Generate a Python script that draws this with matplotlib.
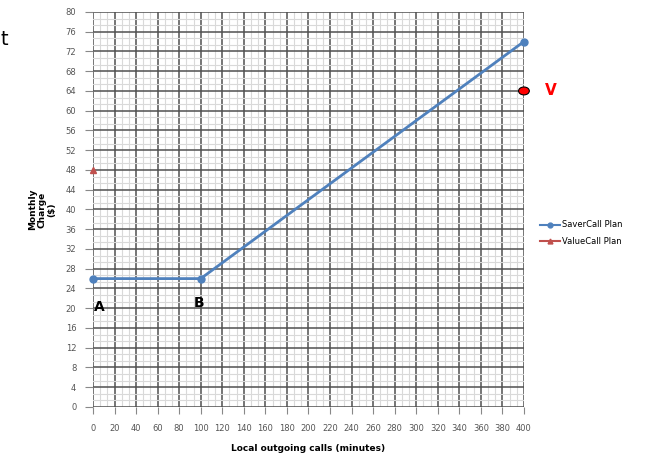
import matplotlib.pyplot as plt
from matplotlib.ticker import MultipleLocator
from matplotlib.patches import Ellipse
from matplotlib.lines import Line2D

# datos
saver_min = [0, 100, 400]
saver_cost = [26, 26, 74]
value_min = [0]
value_cost = [48]
punto_v = (400, 64)

xticks = list(range(0, 401, 20))
yticks = list(range(0, 81, 4))

fig = plt.figure(figsize=(6.52, 4.59), dpi=100)
ax = fig.add_axes([0.1426, 0.1133, 0.661, 0.8607])

ax.set_xlim(0, 400)
ax.set_ylim(0, 80)
ax.set_xticks(xticks)
ax.set_yticks(yticks)
ax.xaxis.set_minor_locator(MultipleLocator(20 / 3))
ax.yaxis.set_minor_locator(MultipleLocator(4 / 3))
ax.grid(True, which='major', color='#505050', linewidth=1.1)
ax.grid(True, which='minor', color='#d9d9d9', linewidth=0.8)
ax.set_axisbelow(True)
for s in ax.spines.values():
    s.set_visible(False)
ax.tick_params(which='minor', length=0)
ax.tick_params(axis='x', which='major', length=5, color='#888888', pad=7,
               labelsize=6, labelcolor='#555555')
ax.tick_params(axis='y', which='major', length=6, color='#888888', pad=6,
               labelsize=6, labelcolor='#555555')

ax.plot(saver_min, saver_cost, '-o', color='#4f81bd', linewidth=2,
        markersize=5, clip_on=False, zorder=5)
ax.plot(value_min, value_cost, '^', color='#c0504d', markersize=5,
        linestyle='none', clip_on=False, zorder=5)
ax.add_patch(Ellipse(punto_v, 10, 1.6, facecolor='red', edgecolor='black',
                     linewidth=0.8, clip_on=False, zorder=6))

ax.text(1, 20.2, 'A', fontsize=10, fontweight='bold', ha='left', va='center')
ax.text(98, 21, 'B', fontsize=10, fontweight='bold', ha='center', va='center')
ax.text(425, 64, 'V', fontsize=11, fontweight='bold', color='red',
        ha='center', va='center')

ax.set_xlabel('Local outgoing calls (minutes)', fontsize=6.5, fontweight='bold',
              labelpad=8)
ax.set_ylabel('Monthly\nCharge\n($)', fontsize=6.5, fontweight='bold',
              linespacing=1.1)
ax.yaxis.set_label_coords(-0.085, 0.5)

handles = [
    Line2D([], [], color='#4f81bd', linewidth=1.5, marker='o', markersize=3.5),
    Line2D([], [], color='#c0504d', linewidth=1.5, marker='^', markersize=3.5),
]
ax.legend(handles, ['SaverCall Plan', 'ValueCall Plan'], loc='center left',
          bbox_to_anchor=(1.02, 0.44), frameon=False, fontsize=6,
          handlelength=2.4, handletextpad=0.2, labelspacing=0.9)

fig.text(0.001, 0.913, 't', fontsize=14, ha='left', va='center')

fig.savefig('out.png', dpi=100)
